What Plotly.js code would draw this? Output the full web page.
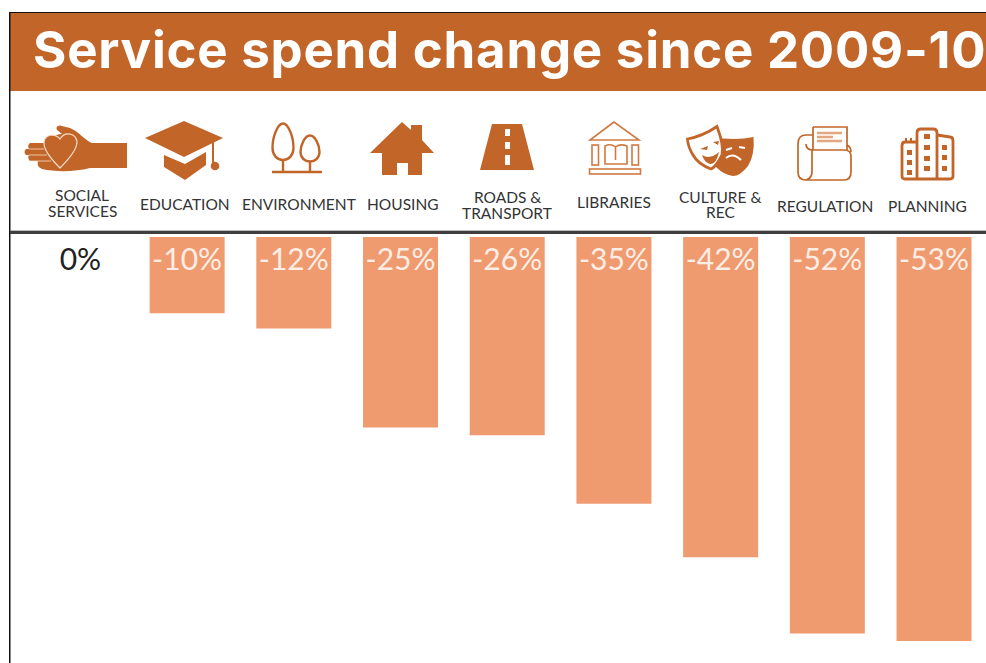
<!DOCTYPE html>
<html><head><meta charset="utf-8">
<script src="https://cdn.plot.ly/plotly-3.0.1.min.js"></script>
<style>html,body{margin:0;padding:0;background:#fff;overflow:hidden}
.gtitle{letter-spacing:0.75px}</style>
</head><body><div id="chart" style="width:986px;height:663px"></div>
<script>
const titleText = 'Service spend change since 2009-10';
const categories = ['Social services','Education','Environment','Housing','Roads & transport','Libraries','Culture & rec','Regulation','Planning'];
const categoryLabels = ['SOCIAL<br>SERVICES','EDUCATION','ENVIRONMENT','HOUSING','ROADS &<br>TRANSPORT','LIBRARIES','CULTURE &<br>REC','REGULATION','PLANNING'];
const changePct = [0,-10,-12,-25,-26,-35,-42,-52,-53];
const valueLabels = ['0%','-10%','-12%','-25%','-26%','-35%','-42%','-52%','-53%'];
const valueLabelColors = ['#222222','#fdeee5','#fdeee5','#fdeee5','#fdeee5','#fdeee5','#fdeee5','#fdeee5','#fdeee5'];

const W=986,H=663, BROWN='#c26528', BAR='#f09a70', LIB='#cf7a42';
const px=v=>v/W, py=v=>1-v/H;
const labelX=[82,185,298.5,402.5,507.5,614,720,825,927];
const labelY=[203,204,204,204,205,202,204.5,206,206];
const LINE_GAP=16;

const icons=[
 [20,120,112,56,`<path fill="${BROWN}" d="M127 143H92C86 141 78 131 70 128L60 125.500Q55 126 57 130L62 134C55 134 50 138 46 143H30Q27 145 29 149H26Q23 152 26 155H29Q27 158 30 161H38Q36 166 42 169C55 172 75 172 90 168H127Z"/><path d="M60 168C52 160 43 150 44 142C45 134 55 133 60 139C65 131 76 133 77 142C77 150 68 160 60 168Z" fill="${BROWN}" stroke="#f6dcc8" stroke-width="1.2"/><path d="M29 149H44M29 155H47M30 161H51" stroke="#f6dcc8" stroke-width="0.8" fill="none"/>`],
 [142,118,86,66,`<path fill="${BROWN}" d="M184 121L223 138L184 157L145 138Z"/><path fill="${BROWN}" d="M164 155L185 164L206 152V165L185 180L164 167Z"/><path stroke="${BROWN}" stroke-width="2" fill="none" d="M213 140V164"/><circle cx="215" cy="166" r="4.3" fill="${BROWN}"/>`],
 [268,120,58,56,`<g fill="none" stroke="${BROWN}" stroke-width="2.4"><path d="M283 123.500C288 123.500 293.500 136 293.500 148C293.500 155 289 160 283 160C277 160 272.500 155 272.500 148C272.500 136 278 123.500 283 123.500Z"/><path d="M310 135.500C315 135.500 319.500 145 319.500 152C319.500 158 315 161.500 310 161.500C305 161.500 300.500 158 300.500 152C300.500 145 305 135.500 310 135.500Z"/><path d="M283 160V172M310 161V172M272 172H322"/></g>`],
 [366,118,72,60,`<path fill="${BROWN}" d="M402 122L411 130V125H422V140L434 153H422V175H408V163H397V175H382V153H370Z"/>`],
 [476,120,62,54,`<path fill="${BROWN}" d="M492 124H522L534 170H480Z"/><path fill="#fff" d="M505 129H510V136H505ZM505 142H510V149H505ZM505 155H510V165H505Z"/>`],
 [585,118,60,60,`<g fill="none" stroke="${LIB}" stroke-width="1.6"><path d="M614 122L590 140H639Z"/><rect x="592" y="145" width="6.500" height="20"/><rect x="632" y="145" width="6.500" height="20"/><rect x="589.500" y="169" width="51" height="5"/><path d="M605 146C609 144 613 145 615.500 147C618 145 622 144 627 146V164H605ZM615.500 147V160"/></g>`],
 [684,122,72,58,`<path fill="${BROWN}" d="M712 137Q735 141 753.500 137Q755 155 748 166Q740 176 733 176Q724 175 716 167Z"/><path fill="#fff" stroke="${BROWN}" stroke-width="2.800" d="M687.500 139Q703 136 717 126.500Q724 145 722 155Q716 167 711 169Q698 164 693 155Q688 147 687.500 139Z"/><path fill="${BROWN}" d="M700 149L708 146L707 150ZM713 142L719 141L718 145ZM702 155Q710 160 719 152Q716 165 710 164Q704 162 702 155Z"/><path d="M726 158Q733 152 741 160" fill="none" stroke="#fff" stroke-width="2"/><path d="M726 150L732 148M739 147L745 148" stroke="#fff" stroke-width="2"/>`],
 [794,124,62,60,`<g fill="none" stroke="${BROWN}" stroke-width="1.700"><path d="M813 127H847V150"/><path d="M813 150V127"/><path d="M813 135H806Q798 135 798 144V172Q798 180 806 180H844Q851 180 851 172V156Q851 150 844 150H813Q806 150 806 144M806 180Q812 178 812 172V150"/><path d="M847 145Q851 147 851 152"/></g><path stroke="#e3a67f" stroke-width="2.500" d="M817 133H842M817 137H833M817 141H842" fill="none"/>`],
 [898,124,60,60,`<g fill="none" stroke="${BROWN}" stroke-width="2.800"><path d="M917 142H905Q902 142 902 146V176Q902 179 905 179H950Q953 179 953 176V141Q953 137 950 137L937 135"/><path d="M917 179V133Q917 129 921 129H933Q937 129 937 133V179"/></g><path stroke="${BROWN}" stroke-width="2" d="M906 143V138M911 143V138" fill="none"/><path fill="${BROWN}" d="M907 150h5v5h-5zM907 160h5v5h-5zM907 170h5v5h-5zM924 134h6v5h-6zM924 145h6v5h-6zM924 156h6v5h-6zM924 166h6v5h-6zM942 145h5v5h-5zM942 155h5v5h-5zM942 166h5v5h-5z"/>`]
];
const images=icons.map(([x,y,w,h,body])=>({
  source:'data:image/svg+xml;charset=utf-8,'+encodeURIComponent(`<svg xmlns="http://www.w3.org/2000/svg" width="${w*3}" height="${h*3}" viewBox="${x} ${y} ${w} ${h}">${body}</svg>`),
  xref:'paper',yref:'paper',x:px(x),y:py(y),sizex:px(w),sizey:h/H,xanchor:'left',yanchor:'top',sizing:'stretch',layer:'above'
}));

const annotations=categoryLabels.flatMap((t,i)=>{
  const lines=t.split('<br>');
  return lines.map((line,k)=>({
    text:line,xref:'paper',yref:'paper',x:px(labelX[i]),y:py(labelY[i]+(k-(lines.length-1)/2)*LINE_GAP),xanchor:'center',yanchor:'middle',showarrow:false,
    align:'center',font:{family:'Lato, "Open Sans", sans-serif',size:15.5,color:'#333333'}
  }));
});

const rect=(x0,y0,x1,y1,fill)=>({type:'rect',xref:'paper',yref:'paper',x0:px(x0),x1:px(x1),y0:py(y0),y1:py(y1),fillcolor:fill,line:{width:0},layer:'below'});
const shapes=[
  rect(10,13,986,91,BROWN),
  rect(9,12,986,13,'#111111'),
  rect(9,12,10.500,663,'#111111'),
  rect(10,230.500,986,232,'#777777'),
  rect(10,231,986,234,'#3f3f3f')
];

const data=[
 {type:'bar',x:categories,y:changePct,marker:{color:BAR,line:{width:0}},width:0.703,hoverinfo:'x+y',showlegend:false},
 {type:'scatter',mode:'text',x:categories,y:changePct.map(()=>-3.4),text:valueLabels,textposition:'middle center',
  textfont:{family:'Lato, "Open Sans", sans-serif',size:30,color:valueLabelColors},hoverinfo:'skip',showlegend:false,cliponaxis:false}
];
const layout={
 width:W,height:H,margin:{l:0,r:0,t:0,b:0,pad:0},paper_bgcolor:'#ffffff',plot_bgcolor:'rgba(0,0,0,0)',showlegend:false,
 title:{text:titleText,x:33/W,xanchor:'left',xref:'paper',y:1-50/H,yanchor:'middle',yref:'paper',font:{family:'Inter, "Open Sans", sans-serif',size:51,color:'#ffffff',weight:700}},
 xaxis:{domain:[10/W,1],type:'category',categoryorder:'array',categoryarray:categories,range:[-0.66,8.487],showgrid:false,zeroline:false,showticklabels:false,ticks:'',showline:false,fixedrange:true},
 yaxis:{domain:[0,426/H],range:[-55.87,0],showgrid:false,zeroline:false,showticklabels:false,ticks:'',showline:false,fixedrange:true},
 shapes,images,annotations
};
Plotly.newPlot('chart',data,layout,{displayModeBar:false,staticPlot:true});
</script></body></html>
